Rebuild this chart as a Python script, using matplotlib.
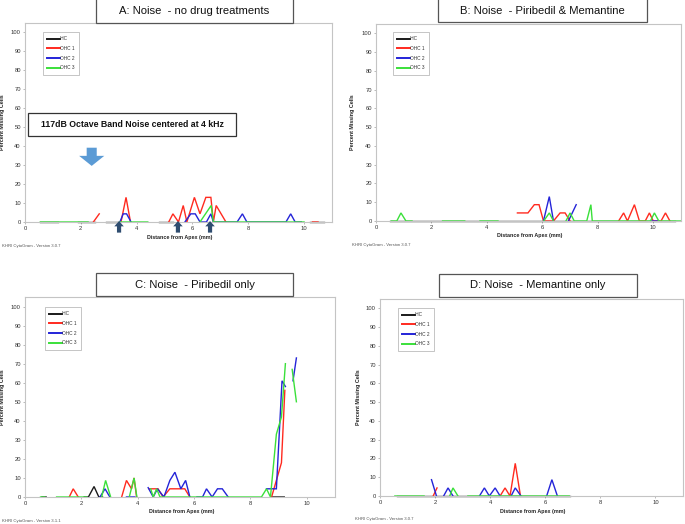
import numpy as np
import matplotlib
matplotlib.use("Agg")
import matplotlib.pyplot as plt
from matplotlib.patches import Rectangle, FancyArrow

plt.rcParams['font.family'] = ['Liberation Sans', 'DejaVu Sans']

nan = np.nan

# ---------------- data (distance from apex in mm, percent missing) ----------------
# A: Noise - no drug treatments
A_ihc_x = [0.55, 1.2, nan, 1.9, 2.5, nan, 2.9, 3.4, nan, 4.8, 5.3, nan, 10.2, 10.7]
A_ihc_y = [0, 0, nan, 0, 0, nan, 0, 0, nan, 0, 0, nan, 0, 0]
A_ohc1_x = [2.45, 2.66, nan, 3.44, 3.62, 3.78, nan, 5.15, 5.3, 5.5, 5.67, 5.8, 6.07, 6.27,
            6.48, 6.66, 6.75, 6.85, 7.2, nan, 10.3, 10.5]
A_ohc1_y = [0, 4.3, nan, 0, 13, 0, nan, 0, 4.3, 0, 8.7, 0, 13, 4.3,
            13, 13, 0, 8.7, 0, nan, 0, 0]
A_ohc2_x = [3.4, 3.52, 3.64, 3.8, nan, 5.73, 5.94, 6.1, 6.27, 6.5, 6.66, 6.75, 7.6, 7.79,
            7.95, 9.35, 9.52, 9.68, 9.9]
A_ohc2_y = [0, 4.3, 4.3, 0, nan, 0, 4.3, 4.3, 0, 0, 4.3, 0, 0, 4.3,
            0, 0, 4.3, 0, 0]
A_ohc3_x = [0.55, 2.26, nan, 3.4, 4.4, nan, 6.27, 6.67, 6.75, 10.0]
A_ohc3_y = [0, 0, nan, 0, 0, nan, 0, 8.7, 0, 0]

# B: Noise - Piribedil & Memantine
B_ihc_x = [0.5, 10.8]
B_ihc_y = [0, 0]
B_ohc1_x = [5.1, 5.48, 5.71, 5.88, 6.04, 6.4, 6.64, 6.82, 7.0, nan, 8.75, 8.93, 9.07, 9.32,
            9.5, 9.71, 9.86, 10.0, 10.28, 10.44, 10.6]
B_ohc1_y = [4.3, 4.3, 8.7, 8.7, 0, 0, 4.3, 4.3, 0, nan, 0, 4.3, 0, 8.7,
            0, 0, 4.3, 0, 0, 4.3, 0]
B_ohc2_x = [6.04, 6.25, 6.4, nan, 6.94, 7.22, nan, 9.9, 10.2]
B_ohc2_y = [0, 13, 0, nan, 0, 8.7, nan, 0, 0]
B_ohc3_x = [0.55, 0.75, 0.9, 1.08, 1.3, nan, 2.4, 3.2, nan, 3.75, 4.4, nan, 6.05, 6.25, 6.4,
            nan, 6.85, 7.0, 7.15, 7.6, 7.75, 7.8, 9.9, 10.04, 10.2, 11.0]
B_ohc3_y = [0, 0, 4.3, 0, 0, nan, 0, 0, nan, 0, 0, nan, 0, 4.3, 0,
            nan, 0, 4.3, 0, 0, 8.7, 0, 0, 4.3, 0, 0]

# C: Noise - Piribedil only
C_ihc_x = [0.6, 0.75, nan, 2.1, 2.25, 2.45, 2.62, 2.75, nan, 8.75, 9.2]
C_ihc_y = [0, 0, nan, 0, 0, 5.5, 0, 0, nan, 0, 0]
C_ohc1_x = [1.57, 1.71, 1.89, nan, 3.43, 3.6, 3.78, 3.87, 3.96, nan, 4.41, 4.72, 4.9, 5.14,
            5.67, 5.85, nan, 8.75, 9.1, 9.22]
C_ohc1_y = [0, 4.3, 0, nan, 0, 8.7, 4.3, 10, 0, nan, 4.3, 4.3, 0, 4.3,
            4.3, 0, nan, 0, 18, 56]
C_ohc2_x = [2.66, 2.84, 3.01, nan, 3.6, 3.9, nan, 4.37, 4.55, 4.7, 4.93, 5.14, 5.32, 5.53,
            5.7, 5.85, nan, 6.1, 6.3, 6.44, 6.64, 6.83, 7.0, 7.21, nan, 8.57, 8.92, 9.12,
            9.24, nan, 9.51, 9.63]
C_ohc2_y = [0, 4.3, 0, nan, 0, 0, nan, 4.9, 0, 4.3, 0, 8.7, 13, 4.3,
            8.7, 0, nan, 0, 0, 4.3, 0, 4.3, 4.3, 0, nan, 4.3, 4.3, 61,
            58, nan, 61, 73]
C_ohc3_x = [0.55, 0.7, nan, 1.12, 2.19, nan, 2.72, 2.86, 3.04, nan, 3.7, 3.87, 3.97, nan,
            4.46, 4.55, 4.67, 4.79, 8.39, 8.57, 8.71, 8.92, 9.1, 9.24, nan, 9.48, 9.63]
C_ohc3_y = [0, 0, nan, 0, 0, nan, 0, 8.7, 0, nan, 0, 10, 0, nan,
            4.3, 0, 4.3, 0, 0, 4.3, 0, 33, 42, 70, nan, 67, 50]

# D: Noise - Memantine only
D_ihc_x = [0.6, 6.9]
D_ihc_y = [0, 0]
D_ohc1_x = [1.93, 2.07, nan, 4.36, 4.54, 4.72, 4.91, 5.1]
D_ohc1_y = [0, 4.3, nan, 0, 4.3, 0, 17.4, 0]
D_ohc2_x = [1.87, 2.05, nan, 2.31, 2.47, 2.65, nan, 3.61, 3.79, 3.97, 4.18, 4.36, nan,
            4.76, 4.91, 5.12, nan, 6.05, 6.24, 6.44]
D_ohc2_y = [8.7, 0, nan, 0, 4.3, 0, nan, 0, 4.3, 0, 4.3, 0, nan,
            0, 4.3, 0, nan, 0, 8.7, 0]
D_ohc3_x = [0.54, 1.6, nan, 2.53, 2.65, 2.83, nan, 3.19, 6.87]
D_ohc3_y = [0, 0, nan, 0, 4.3, 0, nan, 0, 0]

series_names = ["IHC", "OHC 1", "OHC 2", "OHC 3"]
series_colors = ["#1a1a1a", "#ff2a1f", "#2424d8", "#3ae03a"]
x_ticks = [0, 2, 4, 6, 8, 10]
y_ticks = [0, 10, 20, 30, 40, 50, 60, 70, 80, 90, 100]

panel_titles = ["A: Noise  - no drug treatments", "B: Noise  - Piribedil & Memantine",
                "C: Noise  - Piribedil only", "D: Noise  - Memantine only"]
versions = ["KHRI CytoGram - Version 3.0.7", "KHRI CytoGram - Version 3.0.7",
            "KHRI CytoGram - Version 3.1.1", "KHRI CytoGram - Version 3.0.7"]
noise_label = "117dB Octave Band Noise centered at 4 kHz"
noise_center_mm = 2.39
marker_arrows_mm = [3.37, 5.48, 6.63]

panels = [
    [(A_ihc_x, A_ihc_y), (A_ohc1_x, A_ohc1_y), (A_ohc2_x, A_ohc2_y), (A_ohc3_x, A_ohc3_y)],
    [(B_ihc_x, B_ihc_y), (B_ohc1_x, B_ohc1_y), (B_ohc2_x, B_ohc2_y), (B_ohc3_x, B_ohc3_y)],
    [(C_ihc_x, C_ihc_y), (C_ohc1_x, C_ohc1_y), (C_ohc2_x, C_ohc2_y), (C_ohc3_x, C_ohc3_y)],
    [(D_ihc_x, D_ihc_y), (D_ohc1_x, D_ohc1_y), (D_ohc2_x, D_ohc2_y), (D_ohc3_x, D_ohc3_y)],
]

# ---------------- layout (figure fractions) ----------------
W, H = 685, 524
fig = plt.figure(figsize=(W / 100, H / 100), dpi=100)
fig.patch.set_facecolor("white")

# axes boxes in pixels: left, top, right, bottom
ax_px = [(25, 23, 332, 222), (376, 24, 681, 221), (25, 297, 335, 497), (380, 299, 683, 496)]
title_px = [(96, -4, 293, 23), (438, -4, 647, 22), (96, 273, 293, 296), (439, 274, 637, 297)]
legend_px = [(18, 9), (17, 8), (20, 10), (18, 9)]
ylab_px = [20, 21, 20, 19]
foot_px = [(2, 246), (352, 245), (2, 521), (355, 519)]

def fx(px):
    return px / W

def fy(py):
    return 1 - py / H

axes = []
for i, (l, t, r, b) in enumerate(ax_px):
    ax = fig.add_axes([fx(l), fy(b), fx(r) - fx(l), fy(t) - fy(b)])
    axes.append(ax)
    for (xs, ys), name, col in zip(panels[i], series_names, series_colors):
        ax.plot(xs, ys, color=col, lw=1.0, label=name, clip_on=False, solid_joinstyle="miter")
    ax.set_xlim(0, 11)
    ax.set_ylim(0, 105)
    ax.set_xticks(x_ticks)
    ax.set_yticks(y_ticks)
    ax.tick_params(labelsize=4.2, length=1.5, width=0.4, pad=1.5, colors="#888888",
                   labelcolor="#333333")
    for sp in ax.spines.values():
        sp.set_color("#c4c4c4")
        sp.set_linewidth(0.8)
    w_px = r - l
    h_px = b - t
    ax.set_xlabel("Distance from Apex (mm)", fontsize=3.9, fontweight="bold", color="#222222")
    ax.xaxis.set_label_coords(0.504, -12.5 / h_px)
    ax.set_ylabel("Percent Missing Cells", fontsize=3.9, fontweight="bold", color="#222222")
    ax.yaxis.set_label_coords(-ylab_px[i] / w_px, 0.5)
    lx, ly = legend_px[i]
    leg = ax.legend(loc="upper left", bbox_to_anchor=(lx / w_px, 1 - ly / h_px),
                    fontsize=3.4, frameon=True, fancybox=False, borderpad=0.9,
                    labelspacing=1.0, handlelength=2.6, handletextpad=0.1, borderaxespad=0)
    leg.get_frame().set_edgecolor("#999999")
    leg.get_frame().set_linewidth(0.5)
    for line in leg.get_lines():
        line.set_linewidth(1.4)
    for txt in leg.get_texts():
        txt.set_color("#333333")

    # title box
    tl, tt, tr, tb = title_px[i]
    fig.add_artist(Rectangle((fx(tl), fy(tb)), fx(tr) - fx(tl), fy(tt) - fy(tb),
                             transform=fig.transFigure, facecolor="white",
                             edgecolor="#555555", lw=0.9, zorder=5))
    fig.text((fx(tl) + fx(tr)) / 2, (fy(max(tt, 0)) + fy(tb)) / 2, panel_titles[i],
             fontsize=8.1, ha="center", va="center", color="#111111", zorder=6)
    fig.text(fx(foot_px[i][0]), fy(foot_px[i][1]), versions[i], fontsize=3.1,
             ha="left", va="center", color="#555555")

# noise annotation on panel A
axA = axes[0]
axA.add_patch(Rectangle((0.01, 0.432), 0.677, 0.116, transform=axA.transAxes,
                        facecolor="white", edgecolor="#333333", lw=0.9, zorder=4))
axA.text(0.3485, 0.49, noise_label, transform=axA.transAxes, fontsize=6.35,
         fontweight="bold", ha="center", va="center", color="#111111", zorder=5)
axA.add_patch(FancyArrow(noise_center_mm, 39.2, 0, -9.6, width=0.36, head_width=0.9,
                         head_length=5.3, length_includes_head=True, color="#5b9bd5",
                         lw=0, zorder=4))
for xm in marker_arrows_mm:
    axA.add_patch(FancyArrow(xm, -5.6, 0, 6.1, width=0.15, head_width=0.34,
                             head_length=2.8, length_includes_head=True, color="#2f4d70",
                             lw=0, zorder=6, clip_on=False))

fig.savefig("out.png", dpi=100)
